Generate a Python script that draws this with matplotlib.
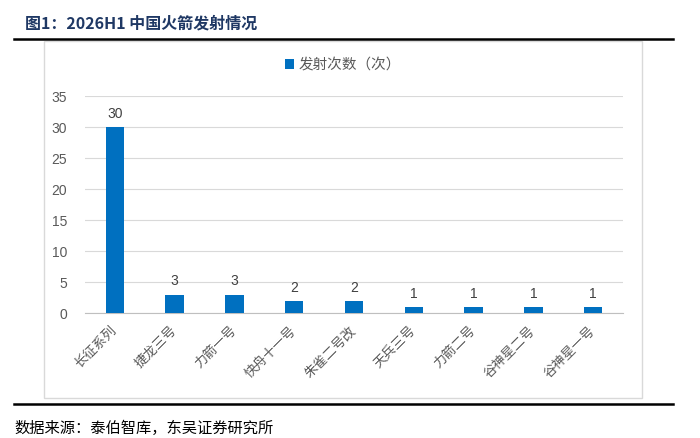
import matplotlib
matplotlib.use("Agg")
import matplotlib.pyplot as plt
from matplotlib.patches import Rectangle, Patch
from matplotlib.lines import Line2D

plt.rcParams['font.family'] = ['Noto Sans CJK SC', 'DejaVu Sans']

categories = ["长征系列", "捷龙三号", "力箭一号", "快舟十一号", "朱雀二号改",
              "天兵三号", "力箭二号", "谷神星二号", "谷神星一号"]
launches = [30, 3, 3, 2, 2, 1, 1, 1, 1]
yticks = [0, 5, 10, 15, 20, 25, 30, 35]
series_name = "发射次数（次）"
title = "图1：2026H1 中国火箭发射情况"
source = "数据来源：泰伯智库，东吴证券研究所"

W, H = 700, 438
fig = plt.figure(figsize=(7, 4.38), dpi=100)

def fx(x): return x / W
def fy(y): return 1 - y / H

# outer frame of chart
fig.patches.append(Rectangle((fx(44), fy(398)), fx(642) - fx(44), fy(41) - fy(398),
                             transform=fig.transFigure, fill=False,
                             edgecolor='#D9D9D9', lw=1.0, zorder=0))
# black rules
fig.add_artist(Line2D([fx(14), fx(673)], [fy(39), fy(39)], transform=fig.transFigure,
                      color='black', lw=1.8))
fig.add_artist(Line2D([fx(14), fx(673)], [fy(403.5), fy(403.5)], transform=fig.transFigure,
                      color='black', lw=1.8))

fig.text(fx(25), fy(23), title, fontsize=11.5, fontweight='bold', color='#1F3864',
         ha='left', va='center')
fig.text(fx(14), fy(428), source, fontsize=11, color='black', ha='left', va='center')

ax = fig.add_axes([fx(85), fy(313.3), fx(623) - fx(85), fy(96) - fy(313.3)])
x = list(range(len(categories)))
bars = ax.bar(x, launches, width=0.31, color='#0070C0', zorder=3)
for xi, v in zip(x, launches):
    ax.text(xi, v + 1.0, str(v), ha='center', va='bottom', fontsize=10,
            color='#404040', family=['Liberation Sans', 'DejaVu Sans'])

ax.set_xlim(-0.5, len(categories) - 0.5)
ax.set_ylim(0, 35)
ax.set_yticks(yticks)
ax.set_yticklabels([str(t) for t in yticks], fontsize=10, color='#595959',
                   family=['Liberation Sans', 'DejaVu Sans'])
ax.set_xticks(x)
ax.set_xticklabels(categories, rotation=45, ha='right', va='center',
                   rotation_mode='anchor', fontsize=9.5, color='#595959')
ax.tick_params(axis='both', length=0)
ax.tick_params(axis='y', pad=13)
ax.tick_params(axis='x', pad=11)
ax.grid(axis='y', color='#D9D9D9', lw=0.8, zorder=0)
for s in ['top', 'right', 'left']:
    ax.spines[s].set_visible(False)
ax.spines['bottom'].set_color('#BFBFBF')
ax.spines['bottom'].set_linewidth(0.8)

handle = Patch(facecolor='#0070C0', edgecolor='none')
fig.legend([handle], [series_name], loc='center', bbox_to_anchor=(fx(343), fy(65)),
           frameon=False, fontsize=10.5, handlelength=0.65, handleheight=0.65,
           handletextpad=0.3, labelcolor='#595959')

fig.savefig("out.png", dpi=100)
